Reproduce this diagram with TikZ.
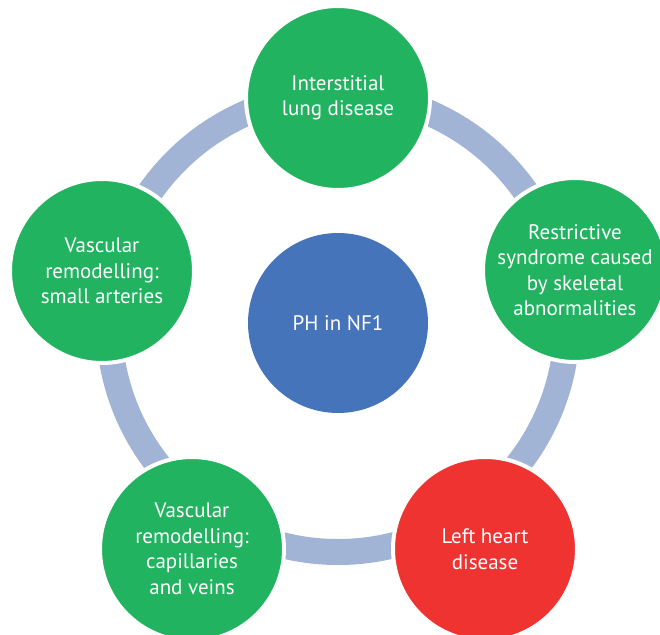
\documentclass[tikz,border=0pt]{standalone}
\usepackage{fontspec}
\setmainfont{PT Sans}
\definecolor{causegreen}{RGB}{33,179,96}
\definecolor{hubblue}{RGB}{70,116,186}
\definecolor{heartred}{RGB}{238,51,48}
\definecolor{ringblue}{RGB}{162,180,214}

\begin{document}
\begin{tikzpicture}[
    x=1pt, y=-1pt,
    every node/.style={circle, minimum size=184pt, inner sep=0pt, align=center, text=white,
        font=\fontsize{21}{25.5}\selectfont},
    cause/.style={fill=causegreen, draw=white, line width=4pt},
    ring/.style={draw=ringblue, line width=26pt}
]
    \useasboundingbox (0,0) rectangle (660,634);
    % Hub
    \node[fill=hubblue, minimum size=180pt] (hub) at (338,323) {PH in NF1};
    % Ring
    \draw[ring] (hub.center) circle (229pt);
    % Causes
    \node[cause] (lung) at (338,98) {Interstitial\\lung disease};
    \node[cause] (skeletal) at (575,270) {Restrictive\\syndrome caused\\by skeletal\\abnormalities};
    \node[cause, fill=heartred] (heart) at (485,549) {Left heart\\disease};
    \node[cause] (veins) at (192,549) {Vascular\\remodelling:\\capillaries\\and veins};
    \node[cause] (arteries) at (102,271) {Vascular\\remodelling:\\small arteries};
\end{tikzpicture}
\end{document}
